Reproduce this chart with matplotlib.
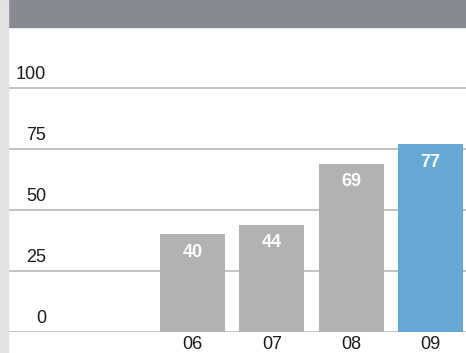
import matplotlib.pyplot as plt
from matplotlib.patches import Rectangle
from matplotlib.transforms import blended_transform_factory, offset_copy

# данные
years = ['06', '07', '08', '09']
values = [40, 44, 69, 77]
bar_colors = ['#b3b2b0', '#b3b2b0', '#b3b2b0', '#64a8d3']
yticks = [0, 25, 50, 75, 100]

plt.rcParams['font.family'] = ['Liberation Sans', 'DejaVu Sans']

fig = plt.figure(figsize=(4.66, 3.53), dpi=100)

# серая полоса сверху и слева
fig.patches.append(Rectangle((0, 1 - 27 / 353), 1, 27 / 353, transform=fig.transFigure,
                             color='#878a93', zorder=0))
fig.patches.append(Rectangle((0, 0), 8 / 466, 1, transform=fig.transFigure,
                             color='#e3e3e3', zorder=0))

ax = fig.add_axes([9 / 466, 21 / 353, 457 / 466, 305 / 353])
ax.set_facecolor('none')
for s in ax.spines.values():
    s.set_visible(False)

x = list(range(len(years)))
bars = ax.bar(x, values, width=0.82, color=bar_colors, zorder=2)

ax.set_ylim(0, 125)
ax.set_xlim(-2.314, 3.449)

# линии сетки и подписи оси y над линиями
tr = blended_transform_factory(ax.transAxes, ax.transData)
for t in yticks:
    ax.axhline(t, color='#b8b8b8', linewidth=1.2, zorder=1)
    ax.text(37 / 457, t, str(t), transform=offset_copy(tr, fig=fig, y=5, units='dots'),
            ha='right', va='bottom', fontsize=13, color='#1a1a1a')

# подписи значений внутри столбцов
for b, v in zip(bars, values):
    ax.annotate(str(v), (b.get_x() + b.get_width() / 2, v), xytext=(0, -7),
                textcoords='offset points', ha='center', va='top',
                color='white', fontsize=13, fontweight='bold', zorder=3)

ax.set_xticks(x)
ax.set_xticklabels(years, fontsize=13, color='#1a1a1a')
ax.tick_params(axis='x', length=0, pad=3)
ax.set_yticks([])

fig.savefig('out.png', dpi=100)
